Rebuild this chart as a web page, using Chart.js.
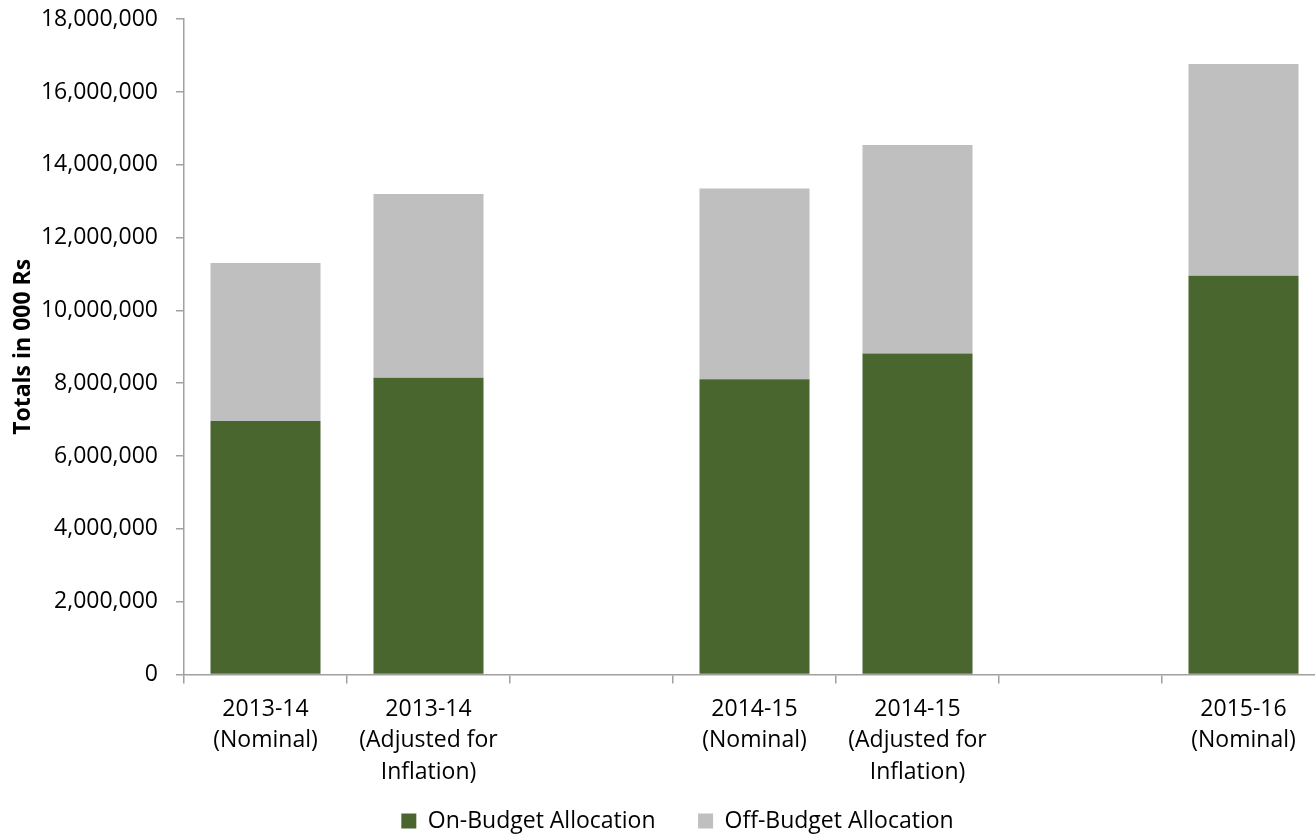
<!DOCTYPE html>
<html>
<head>
<meta charset="utf-8">
<script src="https://cdn.jsdelivr.net/npm/chart.js@4/dist/chart.umd.min.js"></script>
<style>
  html, body { margin: 0; padding: 0; background: #fff; overflow: hidden; }
  #wrap { width: 1360px; height: 835px; }
</style>
</head>
<body>
<div id="wrap"><canvas id="budget-chart"></canvas></div>
<script>
// categories (empty slots are the gaps between years)
const categories = [
  ['2013-14', '(Nominal)'],
  ['2013-14', '(Adjusted for', 'Inflation)'],
  '',
  ['2014-15', '(Nominal)'],
  ['2014-15', '(Adjusted for', 'Inflation)'],
  '',
  ['2015-16', '(Nominal)']
];

// values in 000 Rs
const onBudget  = [6960000, 8150000, null, 8110000, 8820000, null, 10950000];
const offBudget = [4340000, 5050000, null, 5240000, 5720000, null, 5820000];

const yMin = 0;
const yMax = 18000000;
const yStep = 2000000;

document.addEventListener('DOMContentLoaded', function () {
  const canvas = document.getElementById('budget-chart');
  const ctx = canvas.getContext('2d');

  const font = "'Open Sans', 'Noto Sans', sans-serif";
  const axisColor = '#a0a0a0';

  // move the legend into place (right and up) after layout
  const legendShift = {
    id: 'legendShift',
    afterLayout: function (chart) {
      const lg = chart.legend;
      if (!lg) return;
      lg.left += 15;
      lg.right += 15;
      lg.top -= 22;
      lg.bottom -= 22;
    }
  };

  new Chart(ctx, {
    type: 'bar',
    data: {
      labels: categories,
      datasets: [
        {
          label: 'On-Budget Allocation',
          data: onBudget,
          backgroundColor: '#4a662f',
          borderWidth: 0,
          barPercentage: 0.675,
          categoryPercentage: 1
        },
        {
          label: 'Off-Budget Allocation',
          data: offBudget,
          backgroundColor: '#bfbfbf',
          borderWidth: 0,
          barPercentage: 0.675,
          categoryPercentage: 1
        }
      ]
    },
    plugins: [legendShift],
    options: {
      responsive: true,
      maintainAspectRatio: false,
      animation: false,
      layout: { padding: { top: 0, right: 35, bottom: -29.5, left: 0 } },
      plugins: {
        tooltip: { enabled: false },
        legend: {
          position: 'bottom',
          labels: {
            color: '#000',
            font: { family: font, size: 23 },
            boxWidth: 15,
            boxHeight: 15,
            padding: 42.5
          }
        }
      },
      scales: {
        x: {
          stacked: true,
          afterFit: function (scale) { scale.height = 114.5; },
          border: { color: axisColor, width: 1.5 },
          grid: {
            drawOnChartArea: false,
            drawTicks: true,
            tickLength: 9,
            color: axisColor,
            lineWidth: 1.5,
            offset: true
          },
          ticks: {
            color: '#000',
            font: { family: font, size: 23, lineHeight: 1.37 },
            padding: 10,
            maxRotation: 0,
            autoSkip: false
          }
        },
        y: {
          stacked: true,
          min: yMin,
          max: yMax,
          afterFit: function (scale) { scale.width = 184; },
          border: { color: axisColor, width: 1.5 },
          grid: {
            drawOnChartArea: false,
            drawTicks: true,
            tickLength: 8,
            color: axisColor,
            lineWidth: 1.5
          },
          ticks: {
            stepSize: yStep,
            color: '#000',
            // tiny line height keeps the top label from pushing the plot down
            font: { family: font, size: 23, lineHeight: 0.1 },
            padding: 18,
            callback: function (v) { return v.toLocaleString('en-US'); }
          },
          title: {
            display: true,
            text: 'Totals in 000 Rs',
            color: '#000',
            font: { family: font, size: 23, weight: 'bold' },
            padding: { top: 10, bottom: 0 }
          }
        }
      }
    }
  });
});
</script>
</body>
</html>
